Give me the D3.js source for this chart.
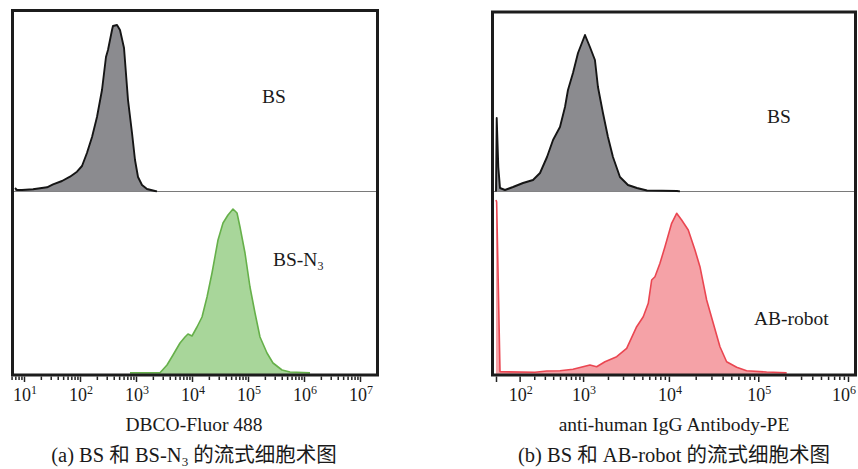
<!DOCTYPE html>
<html>
<head>
<meta charset="utf-8">
<script src="https://cdn.jsdelivr.net/npm/d3@7"></script>
<style>
body{margin:0;background:#fff;}
text{font-family:"Liberation Serif","Times New Roman","Noto Sans CJK SC",serif;fill:#1a1a1a;}
</style>
</head>
<body>
<svg id="chart" width="858" height="469"></svg>
<script>
// (a) BS, gray histogram: intensity / count
var bsAX = [6.9, 7.5, 9.2, 14.5, 25.8, 33, 47.7, 66.3, 88.3, 108.6, 133, 164, 201, 247, 291, 316, 373, 388, 458, 518, 611, 720, 849, 960, 1086, 1280, 1572, 2183, 2371];
var bsAY = [3.5, 1.5, 1.5, 2.2, 4.2, 7.2, 10.5, 14.8, 19.8, 25.5, 38.5, 54.5, 74.5, 101.5, 134.5, 141.5, 161.5, 165.5, 166.5, 161.5, 143.5, 91.5, 58.5, 31.5, 14.5, 6.5, 2.5, 0.5, 0];
// (a) BS-N3, green
var n3AX = [782, 2683, 3580, 4580, 6110, 7500, 8480, 10000, 12280, 15100, 18540, 22760, 29140, 35780, 43940, 53960, 63660, 71970, 88390, 108500, 133400, 163800, 218300, 279500, 404700, 562300, 1280000];
var n3AY = [1.2, 1.3, 9, 19, 31, 37, 40, 38, 47, 57, 77, 101, 134, 151, 159, 165, 161, 147, 121, 87, 61, 37, 21, 11, 4, 2, 1.2];
// (b) BS, gray
var bsBX = [0, 2.2, 7.3, 13, 31, 65.6, 120, 190, 251, 324, 398, 499, 584, 640, 744, 863, 1056, 1215, 1398, 1520, 1745, 2000, 2290, 2763, 3423, 4339, 5646, 12320, 13300];
var bsBY = [0, 73.5, 24.5, 3.5, 1.5, 4.5, 8.5, 11.5, 18.5, 34.5, 51.5, 64.5, 84.5, 101.5, 118.5, 138.5, 156.5, 144.5, 131.5, 104.5, 78.5, 54.5, 34.5, 14.5, 6.5, 3.5, 1, 0.5, 0];
// (b) AB-robot, red
var abBX = [0, 2, 13, 206, 322, 499, 744, 1215, 1467, 1843, 2531, 3305, 4306, 5121, 5840, 6382, 6956, 7925, 9025, 10736, 12226, 13912, 16500, 19620, 22320, 26520, 31440, 37370, 44350, 57400, 74150, 123840, 207100];
var abBY = [174, 172, 2.3, 1.7, 3, 3.3, 4.7, 9, 7.3, 12.3, 17.3, 25.7, 47.3, 57.3, 70.7, 94, 97.3, 110.7, 127.3, 150.7, 160.7, 154, 144, 124, 107.3, 74, 50.7, 27.3, 12.3, 6.7, 3.3, 2, 1.3];

var majorA = [1e1, 1e2, 1e3, 1e4, 1e5, 1e6, 1e7];
var expA = ['1', '2', '3', '4', '5', '6', '7'];
var majorB = [1e2, 1e3, 1e4, 1e5, 1e6];
var expB = ['2', '3', '4', '5', '6'];

var svg = d3.select('#chart');

function zip(xs, ys) {
    return xs.map(function (v, i) { return [v, ys[i]]; });
}

function minorTicks(x, lo, hi) {
    var out = [];
    for (var d = lo; d <= hi; d++) {
        for (var k = 2; k <= 9; k++) {
            var v = k * Math.pow(10, d);
            var px = x(v);
            var r = x.range();
            if (px > r[0] - 14 && px < r[1] + 10) out.push(v);
        }
    }
    return out;
}

function drawHist(g, x, y, data, fill, stroke, sw, clipId) {
    var area = d3.area().x(function (d) { return x(d[0]); }).y0(y(0)).y1(function (d) { return y(d[1]); });
    var line = d3.line().x(function (d) { return x(d[0]); }).y(function (d) { return y(d[1]); });
    g.append('path').datum(data).attr('d', area).attr('fill', fill).attr('clip-path', 'url(#' + clipId + ')');
    g.append('path').datum(data).attr('d', line).attr('fill', 'none').attr('stroke', stroke)
        .attr('stroke-width', sw).attr('stroke-linejoin', 'round').attr('clip-path', 'url(#' + clipId + ')');
}

function panel(opt) {
    var g = svg.append('g');
    var L = opt.left, R = opt.right, T = opt.top, B = 375, mid = 191.5;
    var defs = svg.append('defs');
    defs.append('clipPath').attr('id', opt.id + 'top').append('rect')
        .attr('x', L).attr('y', T).attr('width', R - L).attr('height', mid - T + 1);
    defs.append('clipPath').attr('id', opt.id + 'bot').append('rect')
        .attr('x', L).attr('y', mid).attr('width', R - L).attr('height', B - mid);

    var yTop = d3.scaleLinear().domain([0, 180]).range([mid, mid - 180]);
    var yBot = d3.scaleLinear().domain([0, 180]).range([374, 194]);

    // divider
    g.append('line').attr('x1', L).attr('x2', R).attr('y1', mid).attr('y2', mid)
        .attr('stroke', '#7a7a7a').attr('stroke-width', 1.2);

    drawHist(g, opt.x, yTop, opt.topData, '#8b8b8f', '#151515', 1.9, opt.id + 'top');
    drawHist(g, opt.x, yBot, opt.botData, opt.botFill, opt.botStroke, 1.6, opt.id + 'bot');

    // frame
    g.append('rect').attr('x', L).attr('y', T).attr('width', R - L).attr('height', B - T)
        .attr('fill', 'none').attr('stroke', '#1c1c1c').attr('stroke-width', 3);

    // ticks
    var ax = g.append('g').attr('transform', 'translate(0,' + (B + 1.5) + ')');
    ax.call(d3.axisBottom(opt.x).tickValues(opt.minor).tickSize(3.5).tickFormat(''));
    var ax2 = g.append('g').attr('transform', 'translate(0,' + (B + 1.5) + ')');
    ax2.call(d3.axisBottom(opt.x).tickValues(opt.major).tickSize(5.5).tickFormat(''));
    g.selectAll('.domain').remove();
    g.selectAll('.tick line').attr('stroke', '#222').attr('stroke-width', 1.5);

    var lab = g.selectAll('.tlab').data(opt.majorLab).enter().append('text')
        .attr('class', 'tlab')
        .attr('x', function (d) { return Math.min(opt.x(d[0]) + 1, 844); })
        .attr('y', 401)
        .attr('text-anchor', 'middle')
        .style('font-size', '18px');
    lab.append('tspan').text('10');
    lab.append('tspan').attr('dy', -7).style('font-size', '12px').text(function (d) { return d[1]; });

    g.append('text').attr('x', opt.cx).attr('y', 431).attr('text-anchor', 'middle')
        .style('font-size', '19.5px').text(opt.title);

    var cap = g.append('text').attr('x', opt.cx).attr('y', 462).attr('text-anchor', 'middle')
        .style('font-size', '20.5px');
    opt.caption(cap);
    return g;
}

var xA = d3.scaleLog().domain([1e1, 1e7]).range([24, 360]);
var xB = d3.scaleSymlog().constant(120).domain([0, 1e6]).range([496, 848]);

var gA = panel({
    id: 'a', left: 12.5, right: 377.5, top: 10.5, x: xA,
    topData: zip(bsAX, bsAY), botData: zip(n3AX, n3AY),
    botFill: '#a8d69a', botStroke: '#66b04a',
    major: majorA, majorLab: zip(majorA, expA),
    minor: minorTicks(xA, 0, 6),
    cx: 194, title: 'DBCO-Fluor 488',
    caption: function (t) {
        t.append('tspan').text('(a) BS 和 BS-N');
        t.append('tspan').attr('dy', 4).style('font-size', '13px').text('3');
        t.append('tspan').attr('dy', -4).text(' 的流式细胞术图');
    }
});

var gB = panel({
    id: 'b', left: 492.5, right: 855.5, top: 12, x: xB,
    topData: zip(bsBX, bsBY), botData: zip(abBX, abBY),
    botFill: '#f5a2a7', botStroke: '#ea4651',
    major: [0].concat(majorB), majorLab: zip(majorB, expB),
    minor: minorTicks(xB, 2, 5),
    cx: 674, title: 'anti-human IgG Antibody-PE',
    caption: function (t) {
        t.append('tspan').text('(b) BS 和 AB-robot 的流式细胞术图');
    }
});

// sample labels
svg.append('text').attr('x', 262).attr('y', 103).style('font-size', '19.5px').text('BS');
var n3 = svg.append('text').attr('x', 273).attr('y', 266).style('font-size', '19.5px');
n3.append('tspan').text('BS-N');
n3.append('tspan').attr('dy', 4).style('font-size', '12px').text('3');
svg.append('text').attr('x', 767).attr('y', 123).style('font-size', '19.5px').text('BS');
svg.append('text').attr('x', 754).attr('y', 325).style('font-size', '19.5px').text('AB-robot');
</script>
</body>
</html>
